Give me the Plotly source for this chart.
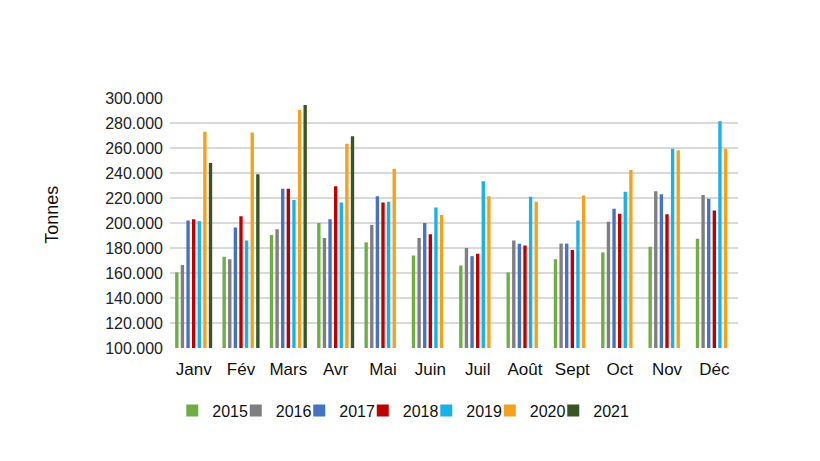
import plotly.graph_objects as go

# Tonnage mensuel (en milliers de tonnes)
mois = ["Janv", "Fév", "Mars", "Avr", "Mai", "Juin", "Juil", "Août", "Sept", "Oct", "Nov", "Déc"]

t2015 = [160.5, 173, 190.5, 200, 184.5, 174, 166, 160.5, 171, 176.5, 181, 187.5]
t2016 = [166.5, 171, 195, 188, 198.5, 188, 180, 186, 183.5, 201, 225.5, 222.5]
t2017 = [202, 196.5, 227.5, 203, 221.5, 200, 173.5, 183.5, 183.5, 211.5, 223, 219.5]
t2018 = [203, 205.5, 227.5, 229.5, 216.5, 191, 175.5, 182, 178.5, 207.5, 207, 210]
t2019 = [201.5, 186, 218.5, 216.5, 217, 212.5, 233.5, 221, 202, 225, 259.5, 281.5]
t2020 = [273, 272.5, 290.5, 263.5, 243.5, 206.5, 221.5, 217, 222, 242.5, 258, 259.5]
t2021 = [248, 239, 294.5, 269.5, None, None, None, None, None, None, None, None]

series = [
    ("2015", t2015, "#70AD47"),
    ("2016", t2016, "#7F7F7F"),
    ("2017", t2017, "#4472C4"),
    ("2018", t2018, "#C00000"),
    ("2019", t2019, "#1AB0EA"),
    ("2020", t2020, "#F4A21E"),
    ("2021", t2021, "#375623"),
]

fig = go.Figure()
for name, vals, col in series:
    fig.add_trace(go.Bar(
        x=mois,
        y=[v * 1000 if v is not None else None for v in vals],
        name=name,
        marker=dict(color=col, line=dict(width=0)),
    ))

# entrée vide en fin de légende pour que "2021" ne soit pas coupé
fig.add_trace(go.Scatter(
    x=[None], y=[None], mode="markers", name=" ",
    marker=dict(color="rgba(0,0,0,0)", size=1, line=dict(width=0)),
    hoverinfo="skip",
))

tickvals = list(range(100000, 300001, 20000))
ticktext = [f"{v // 1000}.000" for v in tickvals]

# la page ajoute 8px de marge (body), d'où les marges décalées
fig.update_layout(
    barmode="group",
    bargap=0.17,
    bargroupgap=0.4,
    width=820, height=461,
    margin=dict(l=162, r=90, t=90, b=121),
    paper_bgcolor="white",
    plot_bgcolor="white",
    font=dict(family="Liberation Sans, Arial, sans-serif", color="#222"),
    xaxis=dict(
        tickfont=dict(size=17, color="#111"),
        showline=False, ticks="",
        ticklabelstandoff=9,
    ),
    yaxis=dict(
        range=[100000, 300000],
        tickvals=tickvals,
        ticktext=ticktext,
        tickfont=dict(size=16, color="#222"),
        showgrid=True, gridcolor="#D9D9D9", gridwidth=1.5,
        zeroline=False, ticks="", ticklen=0,
        ticklabelstandoff=6,
    ),
    legend=dict(
        orientation="h",
        x=0.004, xanchor="left",
        y=-0.25, yanchor="middle",
        font=dict(size=16, color="#111"),
        itemwidth=30,
        entrywidth=18.5,
    ),
    showlegend=True,
    annotations=[dict(
        text="Tonnes", x=-0.208, y=0.532, xref="paper", yref="paper",
        xanchor="center", yanchor="middle",
        textangle=-90, showarrow=False, font=dict(size=18, color="#111"),
    )],
)

fig.write_html("out.html")
